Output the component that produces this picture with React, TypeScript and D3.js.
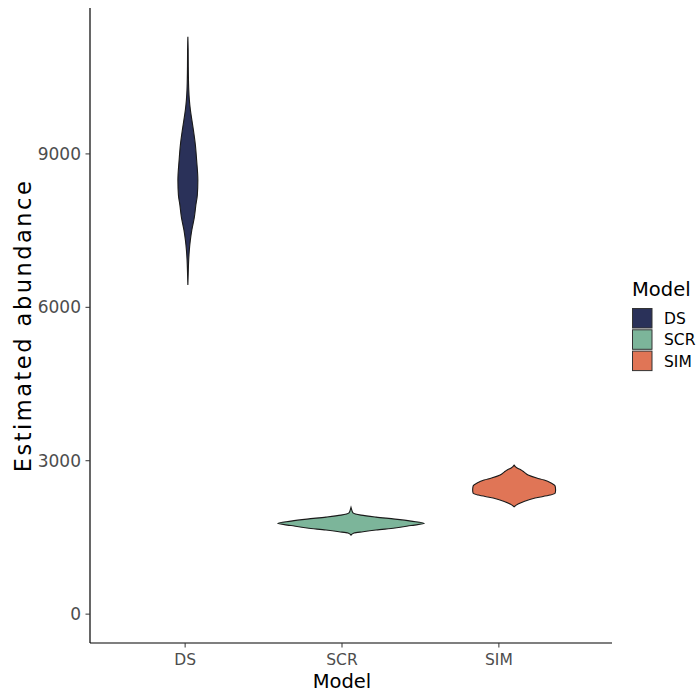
import React from "react";
import * as d3 from "d3";

// ---- data ----
const models = ["DS", "SCR", "SIM"];
const colors = ["#2a3159", "#7cb59a", "#e07556"];
const yTicks = [0, 3000, 6000, 9000];

// density profiles: abundance grid and relative density
const dsAbundance = [11289, 11035, 10644, 10252, 10057, 9861, 9666, 9470, 9176, 8883, 8491, 8198, 8002, 7768, 7513, 7318, 7122, 6926, 6731, 6437];
const dsDensity = [0, 0.004, 0.006, 0.012, 0.02, 0.034, 0.054, 0.075, 0.102, 0.119, 0.136, 0.129, 0.109, 0.089, 0.054, 0.034, 0.02, 0.011, 0.006, 0];

const scrAbundance = [2088, 2035, 1982, 1937, 1898, 1858, 1819, 1775, 1732, 1683, 1644, 1611, 1585, 1546];
const scrDensity = [0, 0.011, 0.027, 0.136, 0.341, 0.599, 0.817, 1, 0.817, 0.599, 0.341, 0.163, 0.041, 0];

const simAbundance = [2915, 2857, 2818, 2778, 2720, 2661, 2622, 2563, 2504, 2426, 2367, 2328, 2270, 2197, 2152, 2099];
const simDensity = [0, 0.041, 0.095, 0.136, 0.191, 0.308, 0.409, 0.504, 0.559, 0.565, 0.559, 0.49, 0.286, 0.127, 0.054, 0];

const profiles = [
  { model: "DS", abundance: dsAbundance, density: dsDensity },
  { model: "SCR", abundance: scrAbundance, density: scrDensity },
  { model: "SIM", abundance: simAbundance, density: simDensity },
];

const W = 698;
const H = 695;
const FONT = "'DejaVu Sans', sans-serif";

export default function App() {
  const panel = { left: 90, right: 612, top: 8, bottom: 643 };

  const maxVal = d3.max(profiles.flatMap((p) => p.abundance)) as number;
  const span = maxVal - 0;
  const y = d3
    .scaleLinear()
    .domain([0 - span * 0.05, maxVal + span * 0.05])
    .range([panel.bottom, panel.top]);

  // violin positions
  const xViolin = d3.scalePoint<string>().domain(models).range([panel.left, panel.right]).padding(0.6);
  // axis tick positions (shifted in the reference)
  const xAxis = d3.scalePoint<string>().domain(models).range([91, 593]).padding(0.6);

  const band = (panel.right - panel.left) / 3.2;
  const maxDens = d3.max(profiles.flatMap((p) => p.density)) as number;
  const wScale = d3.scaleLinear().domain([0, maxDens]).range([0, band * 0.45]);

  const color = d3.scaleOrdinal<string, string>().domain(models).range(colors);

  return (
    <div style={{ position: "absolute", left: 0, top: 0 }}>
      <svg width={W} height={H} style={{ display: "block", background: "#fff" }} fontFamily={FONT}>
        {profiles.map((p) => {
          const cx = xViolin(p.model) as number;
          const pts = p.abundance.map((a, i) => ({ a, d: p.density[i] }));
          const area = d3
            .area<{ a: number; d: number }>()
            .y((d) => y(d.a))
            .x0((d) => cx - wScale(d.d))
            .x1((d) => cx + wScale(d.d))
            .curve(d3.curveMonotoneY);
          return (
            <path
              key={p.model}
              d={area(pts) || ""}
              fill={color(p.model)}
              stroke="#1a1a1a"
              strokeWidth={1.1}
            />
          );
        })}

        {/* y axis */}
        <line x1={panel.left} x2={panel.left} y1={panel.top} y2={panel.bottom} stroke="#000" strokeWidth={1.2} />
        {yTicks.map((t) => (
          <g key={t}>
            <line x1={panel.left - 4.5} x2={panel.left} y1={y(t)} y2={y(t)} stroke="#333" strokeWidth={1} />
            <text x={panel.left - 9} y={y(t)} dy="0.36em" textAnchor="end" fontSize={17} fill="#4d4d4d">
              {t}
            </text>
          </g>
        ))}

        {/* x axis */}
        <line x1={panel.left} x2={panel.right} y1={panel.bottom} y2={panel.bottom} stroke="#000" strokeWidth={1.2} />
        {models.map((m) => (
          <g key={m}>
            <line x1={xAxis(m)} x2={xAxis(m)} y1={panel.bottom} y2={panel.bottom + 4.5} stroke="#333" strokeWidth={1} />
            <text x={xAxis(m)} y={665} textAnchor="middle" fontSize={15.5} fill="#4d4d4d">
              {m}
            </text>
          </g>
        ))}

        {/* axis titles */}
        <text x={342} y={688} textAnchor="middle" fontSize={19.5} fill="#000">
          Model
        </text>
        <text
          transform={`translate(31,${(panel.top + panel.bottom) / 2}) rotate(-90)`}
          textAnchor="middle"
          fontSize={22.5}
          letterSpacing={2.5}
          fill="#000"
        >
          Estimated abundance
        </text>

        {/* legend */}
        <text x={632} y={296} fontSize={19.5} fill="#000">
          Model
        </text>
        {models.map((m, i) => (
          <g key={m} transform={`translate(632,${308 + i * 21.3})`}>
            <rect x={0.5} y={0.5} width={19.5} height={19.5} fill={color(m)} stroke="#333" strokeWidth={1} />
            <text x={32} y={10.5} dy="0.36em" fontSize={15.5} fill="#000">
              {m}
            </text>
          </g>
        ))}
      </svg>
    </div>
  );
}
